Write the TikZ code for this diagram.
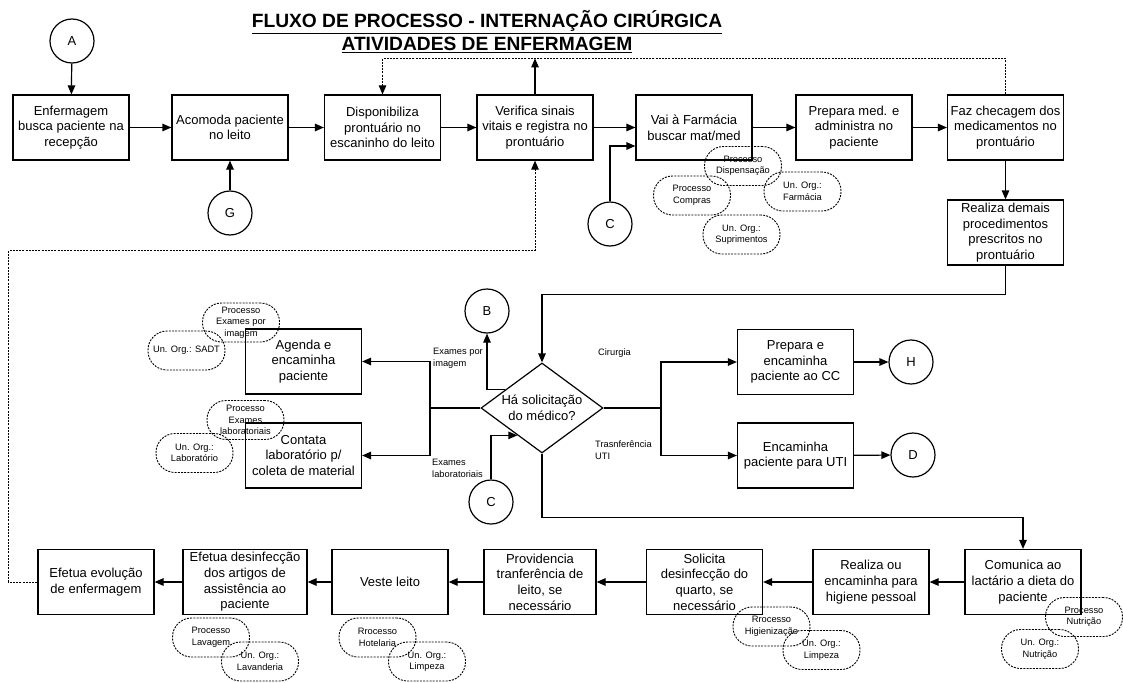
\documentclass[tikz,border=0pt]{standalone}
\usepackage{fontspec}
\setmainfont{Liberation Sans}
\usetikzlibrary{shapes.geometric,arrows.meta,calc}

\begin{document}
\begin{tikzpicture}[x=1pt,y=-1pt,
  box/.style={draw, line width=1.2pt, minimum width=116pt, minimum height=65pt,
    inner sep=0pt, align=center, font=\fontsize{13}{15.7}\selectfont},
  conn/.style={circle, draw, line width=1.2pt, minimum size=44pt, inner sep=0pt,
    font=\fontsize{13}{15}\selectfont},
  dia/.style={diamond, draw, line width=1.2pt, minimum width=122pt,
    minimum height=90pt, inner sep=0pt},
  bubble/.style={draw, line width=0.9pt, dash pattern=on 2pt off 1.2pt,
    rounded corners=19pt, minimum width=77pt, minimum height=39pt, inner sep=0pt,
    align=center, font=\fontsize{9.3}{11.5}\selectfont},
  lbl/.style={inner sep=0pt, align=left, font=\fontsize{9.3}{12}\selectfont},
  ttl/.style={anchor=base, inner sep=0pt, font=\bfseries\fontsize{19.2}{23}\selectfont},
  arr/.style={line width=1.2pt, -{Triangle[length=9pt,width=7.5pt]}},
  plain/.style={line width=1.2pt},
  dline/.style={line width=0.9pt, dash pattern=on 2pt off 1.2pt,
    -{Triangle[length=9pt,width=7.5pt]}}
]
\useasboundingbox (0,0) rectangle (1123,682);

% title
\node[ttl] (t1) at (487,27.5) {\underline{FLUXO DE PROCESSO - INTERNAÇÃO CIRÚRGICA}};
\node[ttl] (t2) at (487,50.5) {\underline{ATIVIDADES DE ENFERMAGEM}};

% top row
\node[box] (b1) at (71,127.5) {Enfermagem\\busca paciente na\\recepção};
\node[box] (b2) at (230,127.5) {Acomoda paciente\\no leito};
\node[box] (b3) at (382.5,127.5) {Disponibiliza\\prontuário no\\escaninho do leito};
\node[box] (b4) at (535,127.5) {Verifica sinais\\vitais e registra no\\prontuário};
\node[box] (b5) at (694,127.5) {Vai à Farmácia\\buscar mat/med};
\node[box] (b6) at (854,127.5) {Prepara med. e\\administra no\\paciente};
\node[box] (b7) at (1005.5,127.5) {Faz checagem dos\\medicamentos no\\prontuário};
\node[box] (b8) at (1005.5,232.5) {Realiza demais\\procedimentos\\prescritos no\\prontuário};

% middle
\node[dia] (q) at (542,408) {};
\node[inner sep=0pt, align=center, font=\fontsize{13}{15.7}\selectfont] (qt) at (q) {Há solicitação\\do médico?};
\node[box] (b9) at (795.5,362) {Prepara e\\encaminha\\paciente ao CC};
\node[box] (b10) at (795.5,455.5) {Encaminha\\paciente para UTI};
\node[box] (b11) at (303.5,361.5) {Agenda e\\encaminha\\paciente};
\node[box] (b12) at (303.5,455.5) {Contata\\laboratório p/\\coleta de material};

% bottom row
\node[box] (b13) at (1023,582) {Comunica ao\\lactário a dieta do\\paciente};
\node[box] (b14) at (871,582) {Realiza ou\\encaminha para\\higiene pessoal};
\node[box] (b15) at (704.5,582) {Solicita\\desinfecção do\\quarto, se\\necessário};
\node[box, minimum width=112pt] (b16) at (540,582) {Providencia\\tranferência de\\leito, se\\necessário};
\node[box] (b17) at (390,582) {Veste leito};
\node[box, minimum width=124pt] (b18) at (245,582) {Efetua desinfecção\\dos artigos de\\assistência ao\\paciente};
\node[box] (b19) at (96,582) {Efetua evolução\\de enfermagem};

% connectors (off-page references)
\node[conn] (ca) at (72,41) {A};
\node[conn] (cg) at (230,213) {G};
\node[conn] (cc1) at (610,224) {C};
\node[conn] (cb) at (487,311) {B};
\node[conn] (cc2) at (491,502) {C};
\node[conn] (ch) at (911,362) {H};
\node[conn] (cd) at (913,455) {D};

% organisational bubbles
\node[bubble] (p1) at (743,166) {Processo\\Dispensação};
\node[bubble] (p2) at (692,195.5) {Processo\\Compras};
\node[bubble] (p3) at (802.5,191.5) {Un. Org.:\\Farmácia};
\node[bubble] (p4) at (741.5,234.5) {Un. Org.:\\Suprimentos};
\node[bubble] (p5) at (241,322.5) {Processo\\Exames por\\imagem};
\node[bubble] (p6) at (186.5,350.5) {Un. Org.: SADT};
\node[bubble] (p7) at (245.5,420) {Processo\\Exames\\laboratoriais};
\node[bubble] (p8) at (194.5,453) {Un. Org.:\\Laboratório};
\node[bubble] (p9) at (211,637.5) {Processo\\Lavagem};
\node[bubble] (p10) at (260,661.5) {Un. Org.:\\Lavanderia};
\node[bubble] (p11) at (377.5,637.5) {Rrocesso\\Hotelaria};
\node[bubble] (p12) at (427,661.5) {Un. Org.:\\Limpeza};
\node[bubble] (p13) at (771.5,626.5) {Rrocesso\\Higienização};
\node[bubble] (p14) at (821.5,650) {Un. Org.:\\Limpeza};
\node[bubble] (p15) at (1084,617) {Processo\\Nutrição};
\node[bubble] (p16) at (1040,649) {Un. Org.:\\Nutrição};

% branch labels
\node[lbl, anchor=west] (l1) at (433,358) {Exames por\\imagem};
\node[lbl, anchor=west] (l2) at (432,468.5) {Exames\\laboratoriais};
\node[lbl, anchor=west] (l3) at (598,353) {Cirurgia};
\node[lbl, anchor=west] (l4) at (595,450.5) {Trasnferência\\UTI};

% main flow, top row
\draw[arr] (ca) -- (b1);
\draw[arr] (b1) -- (b2);
\draw[arr] (b2) -- (b3);
\draw[arr] (b3) -- (b4);
\draw[arr] (b4) -- (b5);
\draw[arr] (b5) -- (b6);
\draw[arr] (b6) -- (b7);
\draw[arr] (cg) -- (b2);
\draw[arr] (cc1.north) |- ($(b5.west)+(0,18.5)$);
\draw[arr] (b7) -- (b8);

% dashed return loop above the top row
\coordinate (fb) at ($(b7.north)+(0,-36)$);
\draw[dline] (b7.north) -- (fb) -| (b3.north);
\draw[arr] (b4.north) -- (b4.north |- fb);

% decision
\draw[arr] (b8.south) -- ++(0,29) -| (q.north);
\coordinate (lj) at (430,408);
\coordinate (rj) at (661,408);
\draw[plain] (q.west) -- (lj);
\draw[arr] (lj) |- (b11.east);
\draw[arr] (lj) |- (b12.east);
\draw[plain] (q.east) -- (rj);
\draw[arr] (rj) |- (b9.west);
\draw[arr] (rj) |- (b10.west);
\draw[arr] (b9) -- (ch);
\draw[arr] (b10) -- (cd);
\draw[arr] ($(q.west)!0.4!(q.north)$) -| (cb.south);
\draw[arr] (cc2.north) |- ($(q.west)!0.6!(q.south)$);
\draw[arr] (q.south) -- ++(0,64) -| (b13.north);

% bottom row
\draw[arr] (b13) -- (b14);
\draw[arr] (b14) -- (b15);
\draw[arr] (b15) -- (b16);
\draw[arr] (b16) -- (b17);
\draw[arr] (b17) -- (b18);
\draw[arr] (b18) -- (b19);

% dashed return to vital signs
\draw[dline] (b19.west) -- ++(-29,0) |- ($(b4.south)+(0,90)$) -- (b4.south);
\end{tikzpicture}
\end{document}
